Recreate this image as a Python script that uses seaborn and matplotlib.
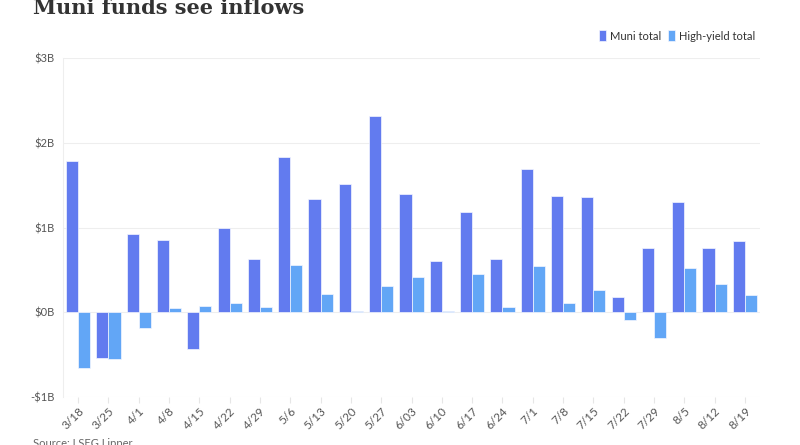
import matplotlib.pyplot as plt
import pandas as pd
import seaborn as sns

# weekly fund flows, $ billions
weeks = ["3/18", "3/25", "4/1", "4/8", "4/15", "4/22", "4/29", "5/6", "5/13", "5/20",
         "5/27", "6/03", "6/10", "6/17", "6/24", "7/1", "7/8", "7/15", "7/22", "7/29",
         "8/5", "8/12", "8/19"]
muni_total = [1.79, -0.54, 0.92, 0.85, -0.43, 1.00, 0.63, 1.83, 1.34, 1.51,
              2.31, 1.40, 0.61, 1.18, 0.63, 1.69, 1.37, 1.36, 0.18, 0.76,
              1.30, 0.76, 0.84]
high_yield_total = [-0.66, -0.555, -0.18, 0.05, 0.07, 0.11, 0.06, 0.56, 0.21, 0.01,
                    0.31, 0.42, 0.01, 0.45, 0.06, 0.55, 0.11, 0.26, -0.09, -0.30,
                    0.52, 0.33, 0.20]
series = ["Muni total", "High-yield total"]
colors = ["#627BEF", "#62A6F6"]

df = pd.DataFrame({"week": weeks * 2,
                   "value": muni_total + high_yield_total,
                   "series": [series[0]] * len(weeks) + [series[1]] * len(weeks)})

sns.set_style("white")
plt.rcParams["font.family"] = ["Lato", "DejaVu Sans"]

fig = plt.figure(figsize=(8, 4.45), dpi=100)
ax = fig.add_axes([63 / 800, 1 - 397 / 445, 697 / 800, 339 / 445])

sns.barplot(data=df, x="week", y="value", hue="series", order=weeks,
            hue_order=series, palette=colors, width=0.8, ax=ax,
            edgecolor="#F4F6FF", linewidth=0.5, legend=True, saturation=1)

ax.set_xlim(-0.5, len(weeks) - 0.5)
ax.set_ylim(-1, 3)
ax.set_yticks([-1, 0, 1, 2, 3])
ax.set_yticklabels(["-$1B", "$0B", "$1B", "$2B", "$3B"])
ax.grid(axis="y", color="#EEEEEE", linewidth=0.8)
ax.set_axisbelow(True)
ax.set_xlabel("")
ax.set_ylabel("")
for s in ["top", "right", "bottom"]:
    ax.spines[s].set_visible(False)
ax.spines["left"].set_color("#EEEEEE")
ax.spines["left"].set_linewidth(0.8)
ax.tick_params(axis="y", length=0, labelsize=8, labelcolor="#555555", pad=6)
ax.tick_params(axis="x", bottom=True, length=4, color="#E6E6E6", labelsize=8.5,
               labelcolor="#555555", pad=2)
plt.setp(ax.get_xticklabels(), rotation=45, ha="right", rotation_mode="anchor")

handles, labels = ax.get_legend_handles_labels()
ax.get_legend().remove()
fig.legend(handles, labels, loc="center right", bbox_to_anchor=(765 / 800, 1 - 36 / 445),
           ncol=2, frameon=False, fontsize=8, handlelength=0.7, handleheight=1.1,
           handletextpad=0.3, columnspacing=0.6, labelcolor="#333333")

fig.text(33 / 800, 1 - 14 / 445, "Muni funds see inflows", fontsize=15,
         fontweight="bold", family=["DejaVu Serif"], color="#333333", va="baseline")
fig.text(33 / 800, 1 - 447 / 445, "Source: LSEG Lipper", fontsize=8,
         color="#666666", va="baseline")

fig.savefig("out.png", dpi=100)
